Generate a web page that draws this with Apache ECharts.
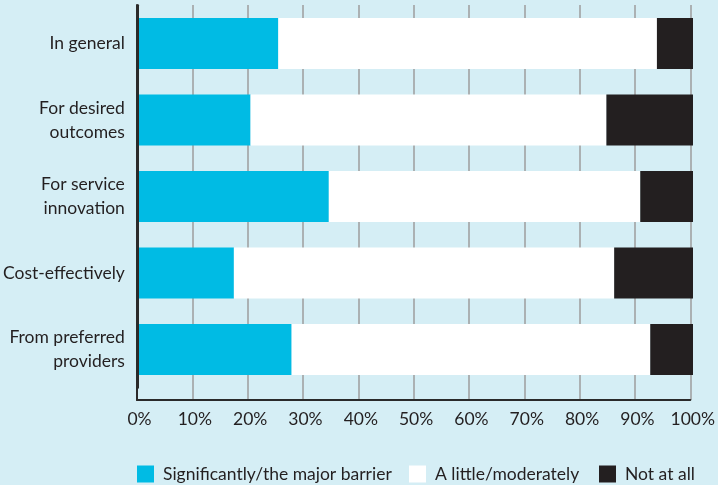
<!DOCTYPE html>
<html><head><meta charset="utf-8">
<script src="https://cdn.jsdelivr.net/npm/echarts@6/dist/echarts.min.js"></script>
<style>html,body{margin:0;padding:0;background:#d5eef5;}#c{width:718px;height:485px;}</style>
</head><body><div id="c"></div>
<script>
var categories = ["In general", "For desired\noutcomes", "For service\ninnovation", "Cost-effectively", "From preferred\nproviders"];
var seriesNames = ["Significantly/the major barrier", "A little/moderately", "Not at all"];
var major = [25.3, 20.3, 34.4, 17.3, 27.7];
var little = [68.2, 64.1, 56.1, 68.5, 64.6];
var notAtAll = [6.5, 15.6, 9.5, 14.2, 7.7];

var colors = ["#00bbe4", "#ffffff", "#231f20"];
var font = "Lato";
var fs = 17.5;
var chart = echarts.init(document.getElementById('c'));
function mk(name, data, i) {
  return {name: name, type: 'bar', stack: 'a', data: data, barCategoryGap: '33.3%',
    xAxisIndex: 0, yAxisIndex: 0,
    itemStyle: {color: colors[i]}, emphasis: {disabled: true}};
}
var legendLefts = [137, 409, 599];
chart.setOption({
  backgroundColor: '#d5eef5',
  animation: false,
  grid: [
    {left: 137, right: 25, top: 5.25, bottom: 97.25},
    {left: 137, right: 25, top: 5, bottom: 85}
  ],
  xAxis: [
    {type: 'value', gridIndex: 0, min: 0, max: 100, show: false},
    {type: 'value', gridIndex: 1, min: 0, max: 100, interval: 10,
      axisLine: {show: true, lineStyle: {color: '#2a2a2a', width: 2}},
      axisTick: {show: false},
      splitLine: {show: true, lineStyle: {color: '#9c9c9c', width: 1.5}},
      axisLabel: {formatter: '{value}%', color: '#231f20', fontFamily: font, fontSize: fs, margin: 10, padding: [0, 0, 0, 5]}
    }
  ],
  yAxis: [
    {type: 'category', gridIndex: 0, data: categories, inverse: true, z: 3,
      axisLine: {show: true, lineStyle: {color: '#2a2a2a', width: 2}},
      axisTick: {show: false},
      splitLine: {show: false},
      axisLabel: {color: '#231f20', fontFamily: font, fontSize: fs, lineHeight: 24, margin: 13, align: 'right'}
    },
    {type: 'value', gridIndex: 1, min: 0, max: 1,
      axisLine: {show: true, lineStyle: {color: '#2a2a2a', width: 2}},
      axisTick: {show: false}, axisLabel: {show: false}, splitLine: {show: false}
    }
  ],
  legend: seriesNames.map(function (n, i) {
    return {data: [n], left: legendLefts[i], top: 465, itemWidth: 17, itemHeight: 17, padding: 0,
      icon: 'rect', selectedMode: false,
      textStyle: {color: '#231f20', fontFamily: font, fontSize: fs, padding: [0, 0, 0, 4]}};
  }),
  series: [mk(seriesNames[0], major, 0), mk(seriesNames[1], little, 1), mk(seriesNames[2], notAtAll, 2)]
});
</script></body></html>
